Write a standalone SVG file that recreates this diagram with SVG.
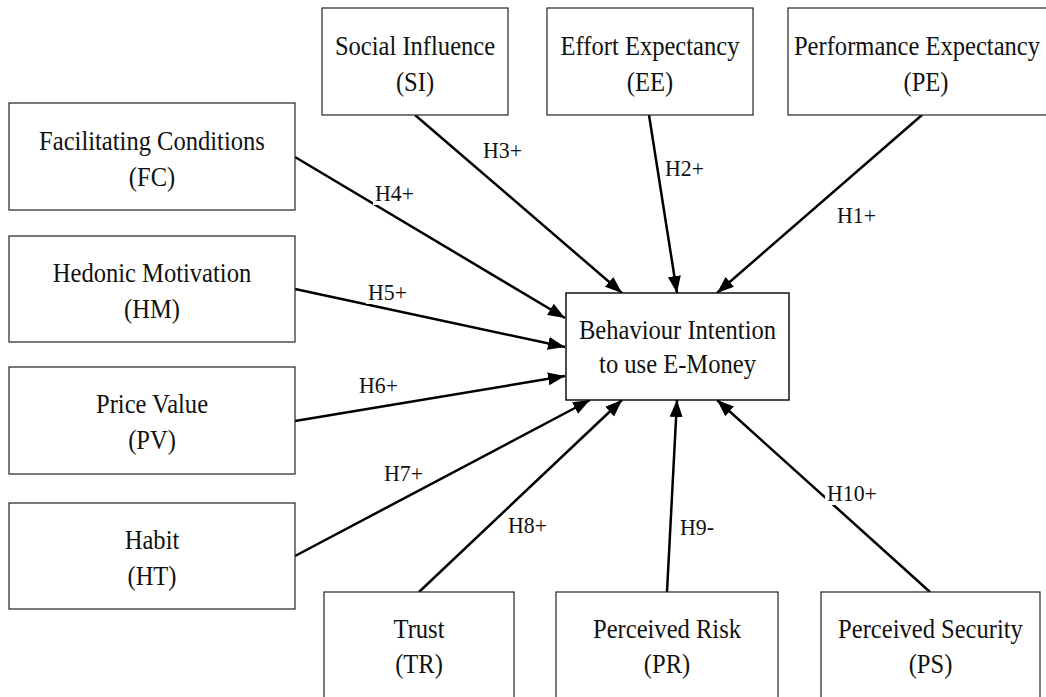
<svg xmlns="http://www.w3.org/2000/svg" width="1046" height="697" viewBox="0 0 1046 697">
<style>
.box{fill:#fff;stroke:#222;stroke-width:1.2}
.main{fill:#fff;stroke:#000;stroke-width:1.4}
.nt{font-family:"Liberation Serif","Times New Roman",serif;font-size:27px;fill:#111;text-anchor:middle}
.lb{font-family:"Liberation Serif","Times New Roman",serif;font-size:23px;fill:#111}
.cn{stroke:#000;stroke-width:2.5;fill:none;marker-end:url(#ah)}
</style>
<defs>
<marker id="ah" markerUnits="userSpaceOnUse" markerWidth="18" markerHeight="14" refX="17" refY="6.5" orient="auto">
<path d="M0,0 L17,6.5 L0,13 z" fill="#000"/>
</marker>
</defs>
<rect width="1046" height="697" fill="#fff"/>
<g id="connectors">
<line class="cn" x1="415" y1="115" x2="622" y2="293"/>
<line class="cn" x1="649" y1="115" x2="677" y2="293"/>
<line class="cn" x1="922" y1="115" x2="717" y2="293"/>
<line class="cn" x1="295" y1="157" x2="565" y2="318"/>
<line class="cn" x1="295" y1="289" x2="565" y2="347"/>
<line class="cn" x1="295" y1="421" x2="565" y2="376"/>
<line class="cn" x1="295" y1="556" x2="590" y2="400"/>
<line class="cn" x1="419" y1="592" x2="622" y2="400"/>
<line class="cn" x1="667" y1="592" x2="677" y2="400"/>
<line class="cn" x1="930" y1="592" x2="717" y2="400"/>
</g>
<g id="labels">
<text class="lb" transform="translate(483,158) scale(0.95,1)">H3+</text>
<text class="lb" transform="translate(665,176) scale(0.95,1)">H2+</text>
<text class="lb" transform="translate(837,223) scale(0.95,1)">H1+</text>
<rect x="373" y="180" width="44" height="25" fill="#fff"/>
<text class="lb" transform="translate(375,201) scale(0.95,1)">H4+</text>
<rect x="366" y="279" width="44" height="25" fill="#fff"/>
<text class="lb" transform="translate(368,300) scale(0.95,1)">H5+</text>
<text class="lb" transform="translate(359,393) scale(0.95,1)">H6+</text>
<text class="lb" transform="translate(384,481) scale(0.95,1)">H7+</text>
<text class="lb" transform="translate(508,533) scale(0.95,1)">H8+</text>
<text class="lb" transform="translate(680,535) scale(0.95,1)">H9-</text>
<rect x="825" y="480" width="54" height="25" fill="#fff"/>
<text class="lb" transform="translate(827,501) scale(0.95,1)">H10+</text>
</g>
<g id="SI">
<rect class="box" x="322" y="8" width="186" height="107"/>
<text class="nt" transform="translate(415,55) scale(0.91,1)">Social Influence</text>
<text class="nt" transform="translate(415,91) scale(0.91,1)">(SI)</text>
</g>
<g id="EE">
<rect class="box" x="547" y="8" width="206" height="107"/>
<text class="nt" transform="translate(650,55) scale(0.91,1)">Effort Expectancy</text>
<text class="nt" transform="translate(650,91) scale(0.91,1)">(EE)</text>
</g>
<g id="PE">
<rect class="box" x="788" y="8" width="270" height="107"/>
<text class="nt" transform="translate(917,55) scale(0.91,1)">Performance Expectancy</text>
<text class="nt" transform="translate(926,91) scale(0.91,1)">(PE)</text>
</g>
<g id="FC">
<rect class="box" x="9" y="103" width="286" height="107"/>
<text class="nt" transform="translate(152,150) scale(0.91,1)">Facilitating Conditions</text>
<text class="nt" transform="translate(152,186) scale(0.91,1)">(FC)</text>
</g>
<g id="HM">
<rect class="box" x="9" y="236" width="286" height="106"/>
<text class="nt" transform="translate(152,282) scale(0.91,1)">Hedonic Motivation</text>
<text class="nt" transform="translate(152,318) scale(0.91,1)">(HM)</text>
</g>
<g id="PV">
<rect class="box" x="9" y="367" width="286" height="107"/>
<text class="nt" transform="translate(152,413) scale(0.91,1)">Price Value</text>
<text class="nt" transform="translate(152,449) scale(0.91,1)">(PV)</text>
</g>
<g id="HT">
<rect class="box" x="9" y="503" width="286" height="106"/>
<text class="nt" transform="translate(152,549) scale(0.91,1)">Habit</text>
<text class="nt" transform="translate(152,585) scale(0.91,1)">(HT)</text>
</g>
<g id="BI">
<rect class="main" x="566" y="293" width="223" height="107"/>
<text class="nt" transform="translate(677.5,339) scale(0.91,1)">Behaviour Intention</text>
<text class="nt" transform="translate(677.5,373) scale(0.91,1)">to use E-Money</text>
</g>
<g id="TR">
<rect class="box" x="324" y="592" width="190" height="115"/>
<text class="nt" transform="translate(419,638) scale(0.91,1)">Trust</text>
<text class="nt" transform="translate(419,673) scale(0.91,1)">(TR)</text>
</g>
<g id="PR">
<rect class="box" x="556" y="592" width="222" height="115"/>
<text class="nt" transform="translate(667,638) scale(0.91,1)">Perceived Risk</text>
<text class="nt" transform="translate(667,673) scale(0.91,1)">(PR)</text>
</g>
<g id="PS">
<rect class="box" x="821" y="592" width="219" height="115"/>
<text class="nt" transform="translate(930.5,638) scale(0.91,1)">Perceived Security</text>
<text class="nt" transform="translate(930.5,673) scale(0.91,1)">(PS)</text>
</g>
</svg>
